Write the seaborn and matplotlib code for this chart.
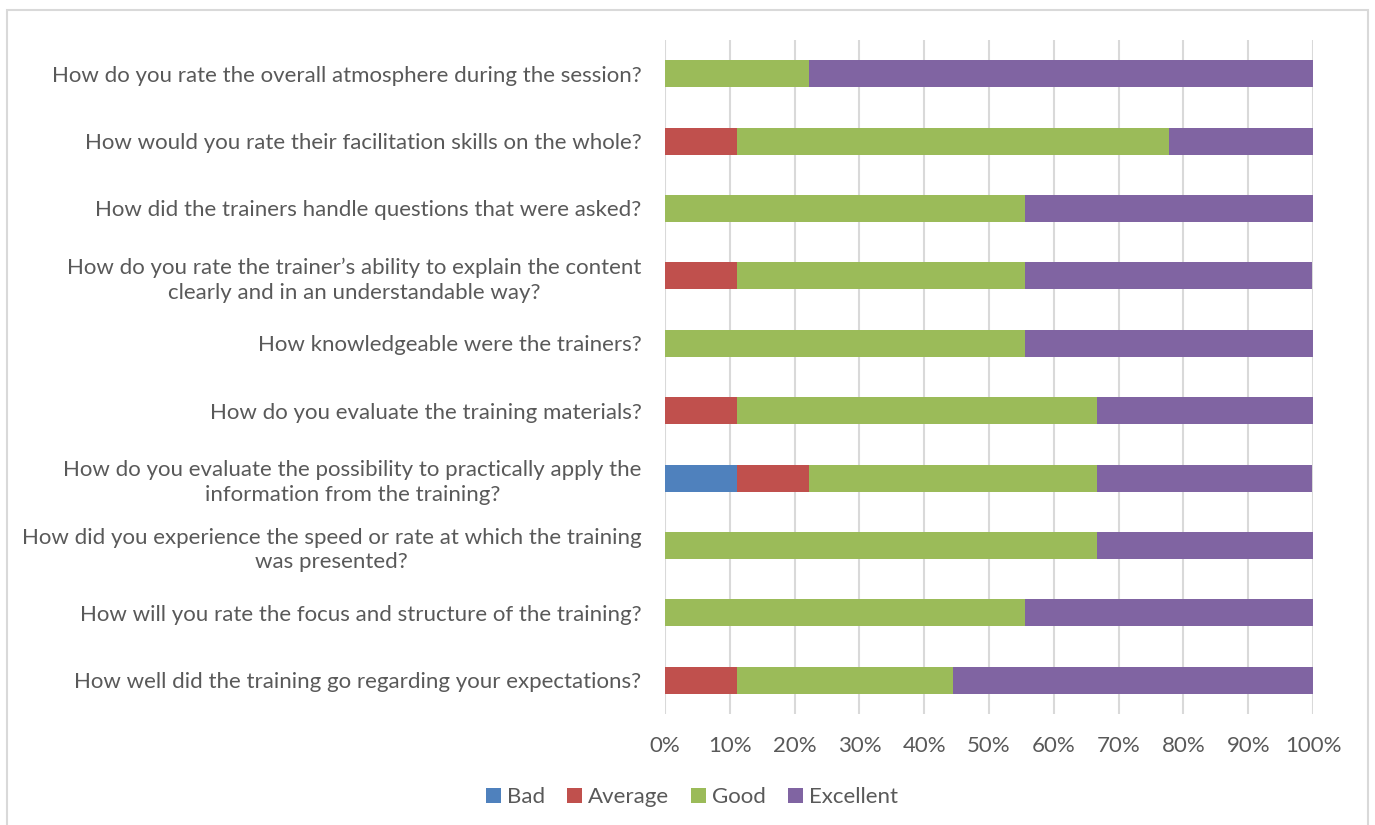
import matplotlib
matplotlib.use("Agg")
import matplotlib.pyplot as plt
import seaborn as sns
import pandas as pd
import numpy as np
from matplotlib.patches import Rectangle, Patch

questions = [
    "How do you rate the overall atmosphere during the session?",
    "How would you rate their facilitation skills on the whole?",
    "How did the trainers handle questions that were asked?",
    "How do you rate the trainer\u2019s ability to explain the content\nclearly and in an understandable way?",
    "How knowledgeable were the trainers?",
    "How do you evaluate the training materials?",
    "How do you evaluate the possibility to practically apply the\ninformation from the training?",
    "How did you experience the speed or rate at which the training\nwas presented?",
    "How will you rate the focus and structure of the training?",
    "How well did the training go regarding your expectations?",
]
bad = [0, 0, 0, 0, 0, 0, 11.1, 0, 0, 0]
average = [0, 11.1, 0, 11.1, 0, 11.1, 11.1, 0, 0, 11.1]
good = [22.2, 66.7, 55.6, 44.4, 55.6, 55.6, 44.4, 66.7, 55.6, 33.3]
excellent = [77.8, 22.2, 44.4, 44.4, 44.4, 33.3, 33.3, 33.3, 44.4, 55.6]
series_names = ["Bad", "Average", "Good", "Excellent"]
tick_values = [0, 10, 20, 30, 40, 50, 60, 70, 80, 90, 100]

colors = ["#4f81bd", "#c0504d", "#9bbb59", "#8064a2"]
text_color = "#595959"

sns.set_theme(style="white")
plt.rcParams["font.family"] = ["Lato", "DejaVu Sans"]

df = pd.DataFrame({"question": questions, "Bad": bad, "Average": average,
                   "Good": good, "Excellent": excellent})
cum = df[series_names].cumsum(axis=1)

fig = plt.figure(figsize=(13.75, 8.25), dpi=100)
ax = fig.add_axes([665 / 1375, 1 - 714 / 825, (1313 - 665) / 1375, (714 - 40) / 825])

for name, col in reversed(list(zip(series_names, colors))):
    sns.barplot(x=cum[name], y=df["question"], orient="h", color=col,
                width=0.4, linewidth=0, saturation=1, ax=ax)

ax.set_xlim(0, 100)
ax.set_xticks(tick_values)
ax.set_xticklabels([f"{v}%" for v in tick_values])
ax.set_xlabel("")
ax.set_ylabel("")
ax.xaxis.grid(True, color="#d9d9d9", linewidth=1.5)
ax.yaxis.grid(False)
ax.set_axisbelow(True)
for s in ax.spines.values():
    s.set_visible(False)
ax.tick_params(axis="x", length=0, pad=16, labelsize=16, labelcolor=text_color)
ax.tick_params(axis="y", length=0, pad=17, labelsize=16, labelcolor=text_color)
for lab in ax.get_yticklabels():
    lab.set_multialignment("center")
    lab.set_linespacing(1.3)

handles = [Patch(facecolor=c, edgecolor="none", label=n) for n, c in zip(series_names, colors)]
fig.legend(handles=handles, loc="center", bbox_to_anchor=(692 / 1375, 1 - 797 / 825),
           ncol=4, frameon=False, fontsize=16, labelcolor=text_color,
           handlelength=0.68, handleheight=0.68, handletextpad=0.25, columnspacing=1.0)

fig.patches.append(Rectangle((7 / 1375, -0.1), (1368 - 7) / 1375, (825 - 10) / 825 + 0.1,
                             transform=fig.transFigure, fill=False,
                             edgecolor="#d9d9d9", linewidth=1.5))

fig.savefig("out.png", dpi=100, facecolor="white")
